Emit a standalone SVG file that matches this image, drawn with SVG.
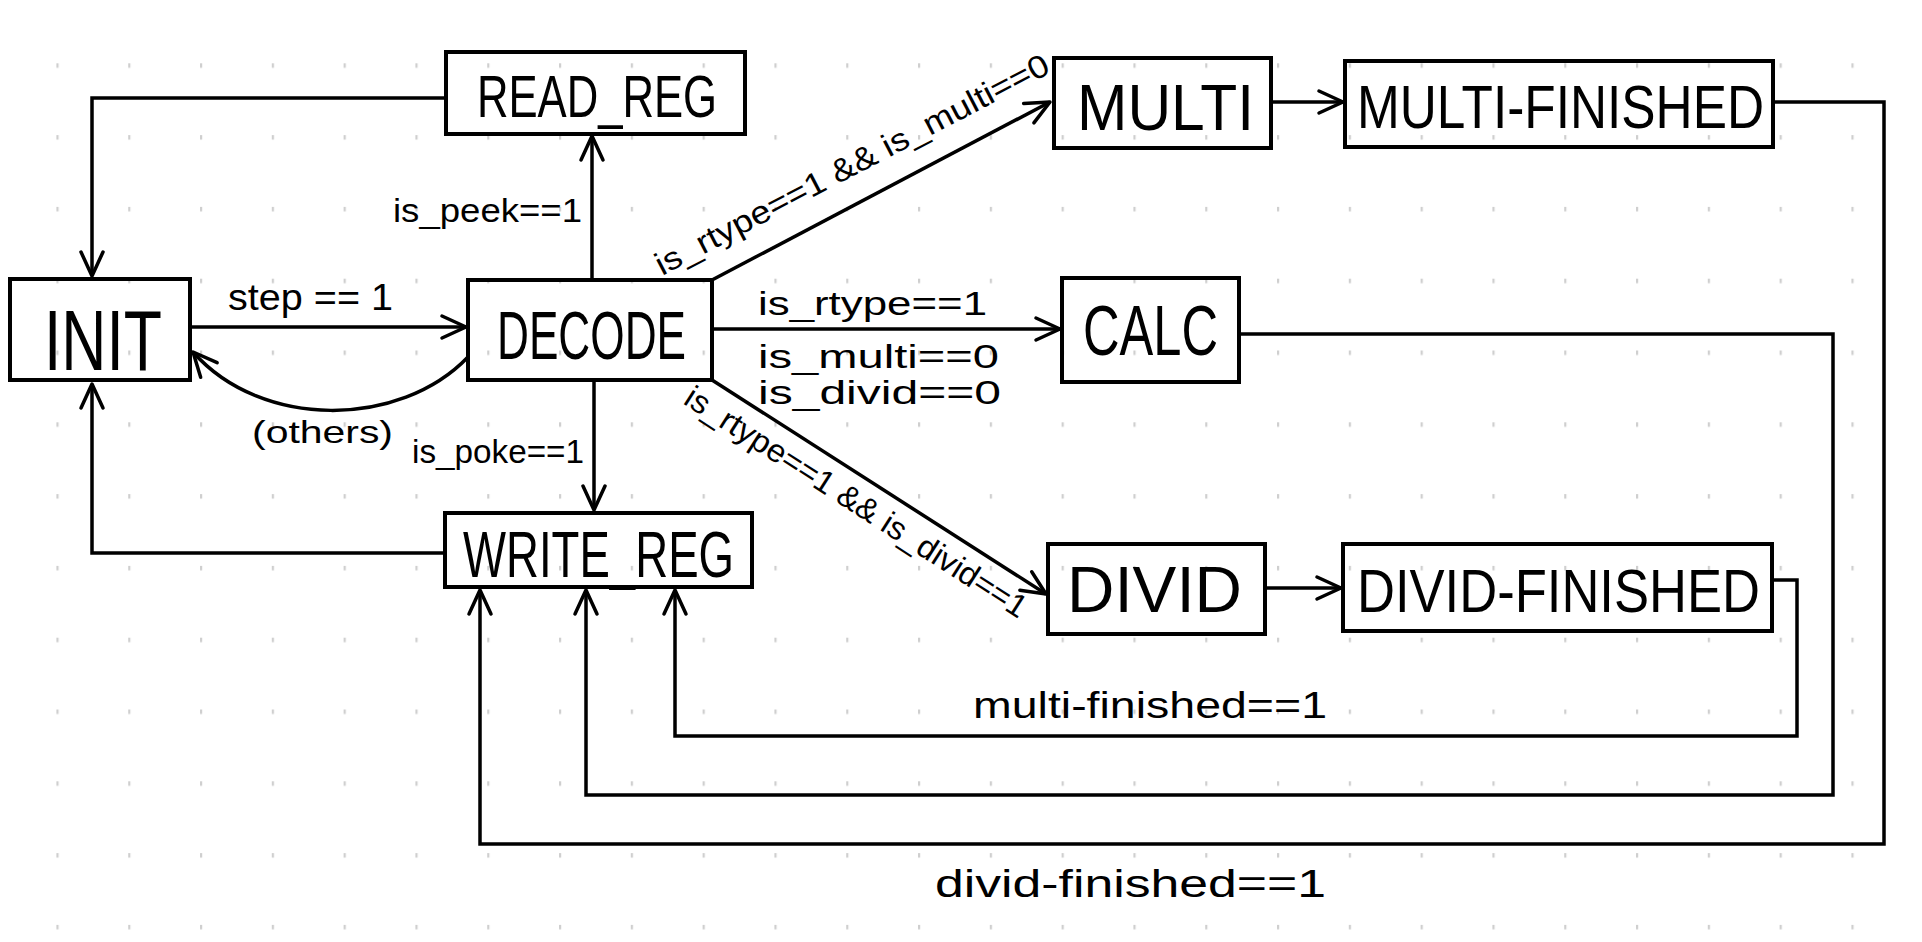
<svg xmlns="http://www.w3.org/2000/svg" width="1922" height="942" viewBox="0 0 1922 942">
<style>
.box{fill:none;stroke:#000;stroke-width:4}
.lbl{font-family:"Liberation Sans",Arial,sans-serif;fill:#000;text-anchor:start}
.edge{fill:none;stroke:#000;stroke-width:3.5;stroke-linejoin:miter}
.t{font-family:"Liberation Sans",Arial,sans-serif;fill:#000}
</style>
<defs>
<pattern id="dots" patternUnits="userSpaceOnUse" x="56.4" y="63.3" width="71.8" height="71.8">
<rect x="0" y="0" width="2.2" height="4.5" fill="#cfcfcf"/>
</pattern>
<marker id="arr" markerUnits="userSpaceOnUse" markerWidth="40" markerHeight="40" viewBox="-30 -20 40 40" refX="0" refY="0" orient="auto" overflow="visible">
<path d="M -24 -11 L 0 0 L -24 11" fill="none" stroke="#000" stroke-width="3.5" stroke-linecap="round" stroke-linejoin="round"/>
</marker>
</defs>
<rect width="1922" height="942" fill="#fff"/>
<rect x="54" y="61" width="1868" height="881" fill="url(#dots)"/>

<g id="connectors">
<path class="edge" d="M 190 327 L 466 327" marker-end="url(#arr)"/>
<path class="edge" d="M 592 280 L 592 136" marker-end="url(#arr)"/>
<path class="edge" d="M 446 98 L 92 98 L 92 276" marker-end="url(#arr)"/>
<path class="edge" d="M 594 380 L 594 510" marker-end="url(#arr)"/>
<path class="edge" d="M 445 553 L 92 553 L 92 384" marker-end="url(#arr)"/>
<path class="edge" d="M 468 357 C 400 428, 262 430, 193 352" marker-end="url(#arr)"/>
<path class="edge" d="M 712 280 L 1050 102" marker-end="url(#arr)"/>
<path class="edge" d="M 712 329 L 1060 329" marker-end="url(#arr)"/>
<path class="edge" d="M 712 380 L 1046 594" marker-end="url(#arr)"/>
<path class="edge" d="M 1271 102 L 1343 102" marker-end="url(#arr)"/>
<path class="edge" d="M 1265 588 L 1341 588" marker-end="url(#arr)"/>
<path class="edge" d="M 1773 102 L 1884 102 L 1884 844 L 480 844 L 480 590" marker-end="url(#arr)"/>
<path class="edge" d="M 1239 334 L 1833 334 L 1833 795 L 586 795 L 586 590" marker-end="url(#arr)"/>
<path class="edge" d="M 1772 580 L 1797 580 L 1797 736 L 675 736 L 675 590" marker-end="url(#arr)"/>

<text class="t" x="228" y="310" font-size="36" textLength="165" lengthAdjust="spacingAndGlyphs">step == 1</text>
<text class="t" x="393" y="222" font-size="34" textLength="189" lengthAdjust="spacingAndGlyphs">is_peek==1</text>
<text class="t" x="252" y="443" font-size="32" textLength="141" lengthAdjust="spacingAndGlyphs">(others)</text>
<text class="t" x="412" y="463" font-size="34" textLength="172" lengthAdjust="spacingAndGlyphs">is_poke==1</text>
<text class="t" x="758" y="315" font-size="34" textLength="229" lengthAdjust="spacingAndGlyphs">is_rtype==1</text>
<text class="t" x="758" y="368" font-size="34" textLength="241" lengthAdjust="spacingAndGlyphs">is_multi==0</text>
<text class="t" x="758" y="404" font-size="34" textLength="243" lengthAdjust="spacingAndGlyphs">is_divid==0</text>
<text class="t" font-size="32" textLength="440" lengthAdjust="spacingAndGlyphs" transform="translate(662 276) rotate(-27.6)">is_rtype==1 &amp;&amp; is_multi==0</text>
<text class="t" font-size="32" textLength="400" lengthAdjust="spacingAndGlyphs" transform="translate(682 403) rotate(32.7)">is_rtype==1 &amp;&amp; is_divid==1</text>
<text class="t" x="973" y="718" font-size="36" textLength="354" lengthAdjust="spacingAndGlyphs">multi-finished==1</text>
<text class="t" x="935" y="897" font-size="38" textLength="391" lengthAdjust="spacingAndGlyphs">divid-finished==1</text>
</g>

<g id="INIT">
<rect class="box" x="10" y="279" width="180" height="101"/>
<text class="lbl" x="44" y="370" font-size="86" textLength="118" lengthAdjust="spacingAndGlyphs">INIT</text>
</g>
<g id="READ_REG">
<rect class="box" x="446" y="52" width="299" height="82"/>
<text class="lbl" x="477" y="117" font-size="60" textLength="240" lengthAdjust="spacingAndGlyphs">READ_REG</text>
</g>
<g id="DECODE">
<rect class="box" x="468" y="280" width="244" height="100"/>
<text class="lbl" x="497" y="359" font-size="68" textLength="189" lengthAdjust="spacingAndGlyphs">DECODE</text>
</g>
<g id="WRITE_REG">
<rect class="box" x="445" y="513" width="307" height="74"/>
<text class="lbl" x="463" y="577" font-size="64" textLength="271" lengthAdjust="spacingAndGlyphs">WRITE_REG</text>
</g>
<g id="MULTI">
<rect class="box" x="1054" y="58" width="217" height="90"/>
<text class="lbl" x="1077" y="130" font-size="64" textLength="177" lengthAdjust="spacingAndGlyphs">MULTI</text>
</g>
<g id="MULTI-FINISHED">
<rect class="box" x="1345" y="61" width="428" height="86"/>
<text class="lbl" x="1357" y="128" font-size="62" textLength="407" lengthAdjust="spacingAndGlyphs">MULTI-FINISHED</text>
</g>
<g id="CALC">
<rect class="box" x="1062" y="278" width="177" height="104"/>
<text class="lbl" x="1083" y="355" font-size="70" textLength="135" lengthAdjust="spacingAndGlyphs">CALC</text>
</g>
<g id="DIVID">
<rect class="box" x="1048" y="544" width="217" height="90"/>
<text class="lbl" x="1067" y="612" font-size="64" textLength="175" lengthAdjust="spacingAndGlyphs">DIVID</text>
</g>
<g id="DIVID-FINISHED">
<rect class="box" x="1343" y="544" width="429" height="87"/>
<text class="lbl" x="1357" y="612" font-size="62" textLength="403" lengthAdjust="spacingAndGlyphs">DIVID-FINISHED</text>
</g>
</svg>
